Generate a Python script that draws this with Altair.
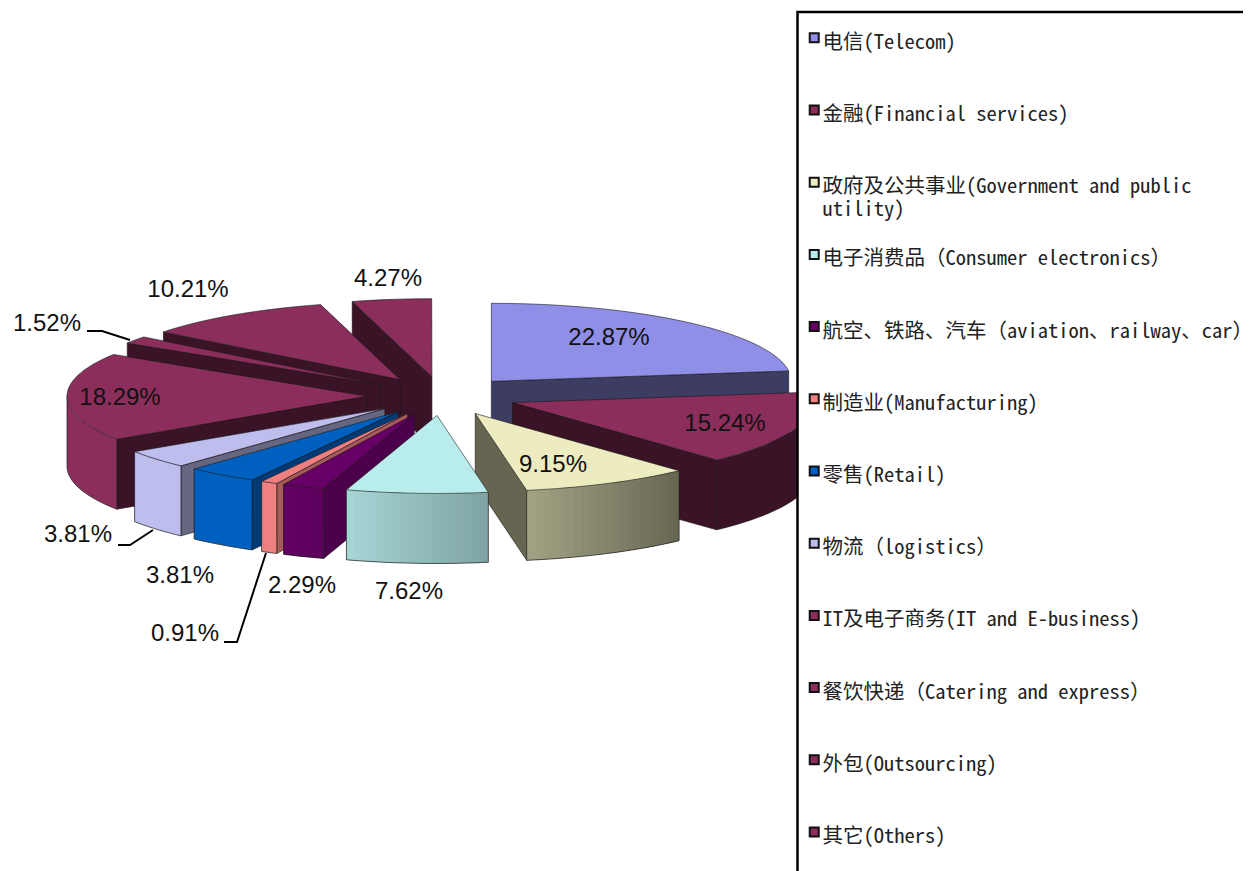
import math
import altair as alt

categories = [
    "电信(Telecom)", "金融(Financial services)", "政府及公共事业(Government and public|utility)",
    "电子消费品（Consumer electronics）", "航空、铁路、汽车（aviation、railway、car）",
    "制造业(Manufacturing)", "零售(Retail)", "物流（logistics）", "IT及电子商务(IT and E-business)",
    "餐饮快递（Catering and express）", "外包(Outsourcing)", "其它(Others)",
]
values = [22.87, 15.24, 9.15, 7.62, 2.29, 0.91, 3.81, 3.81, 18.29, 1.52, 10.21, 4.27]
top_colors = ["#8f8fe8", "#8b2e5b", "#ececc0", "#b9eded", "#660066", "#f08080",
              "#0060c0", "#bdbdee", "#8b2e5b", "#8b2e5b", "#8b2e5b", "#8b2e5b"]
wall_shades = [0.43, 0.43, 0.43, 0.43, 0.75, 0.7, 0.62, 0.54, 0.43, 0.43, 0.43, 0.43]
label_centers = [(609, 338), (725, 424), (553, 465), (409, 592), (302, 586), (185, 634),
                 (180, 576), (78, 535), (120, 398), (47, 324), (188, 290), (388, 279)]
leaders = [[(87, 331), (102, 331), (130, 340)],
           [(118, 545), (130, 545), (153, 530)],
           [(224, 642), (237, 642), (266, 553)]]

CX, CY, RX, RY, EXPLODE, DEPTH = 442, 396, 300, 78, 0.25, 70
W, H = 1235, 863
xs = alt.Scale(domain=[8, 8 + W], range=[0, W])
ys = alt.Scale(domain=[8, 8 + H], range=[0, H])
proj = dict(type="identity", scale=1, translate=[-8, -8])


def shade(color, f):
    c = color.lstrip("#")
    return "#" + "".join(f"{int(int(c[i:i + 2], 16) * f):02x}" for i in (0, 2, 4))


def arc_shade(t):
    if t <= 137:
        return 0.43
    if t >= 205:
        return 1.0
    return min(1.0, 0.43 + (t - 137) * 0.0078)


def feat(coords, fill, stroke="transparent", width=0.0, cat=None):
    return {"type": "Feature",
            "geometry": {"type": "Polygon", "coordinates": [[list(p) for p in coords + coords[:1]]]},
            "properties": {"f": fill, "s": stroke, "w": width, "cat": cat}}


def line(coords, stroke="#1a1a1a", width=0.7):
    return {"type": "Feature", "geometry": {"type": "LineString", "coordinates": [list(p) for p in coords]},
            "properties": {"f": "transparent", "s": stroke, "w": width}}


slices = []
cum = 0.0
for i, v in enumerate(values):
    a0, a1 = cum * 3.6, (cum + v) * 3.6
    cum += v
    mid = math.radians((a0 + a1) / 2)
    ax = CX + EXPLODE * RX * math.sin(mid)
    ay = CY - EXPLODE * RY * math.cos(mid)
    slices.append(dict(i=i, a0=a0, a1=a1, ax=ax, ay=ay, key=math.cos(mid)))


def rim(s, t):
    r = math.radians(t)
    return (s["ax"] + RX * math.sin(r), s["ay"] - RY * math.cos(r))


def down(p):
    return (p[0], p[1] + DEPTH)


layers = []
legend = alt.Legend(
    title=None, orient="none", legendX=794, legendY=24.5,
    symbolType="M-0.56,-2.1H1.44V-0.1H-0.56Z", symbolSize=81,
    symbolStrokeColor="#111111", symbolStrokeWidth=2, labelFont="Noto Sans Mono CJK SC",
    labelFontSize=20.5, labelColor="#222222", labelLimit=600, rowPadding=24.2, gridAlign="all",
    labelExpr="split(datum.label,'|')", labelOffset=0, labelBaseline="middle",
)

for s in sorted(slices, key=lambda q: -q["key"]):
    i = s["i"]
    col = top_colors[i]
    a0, a1 = s["a0"], s["a1"]
    apex = (s["ax"], s["ay"])
    walls = []
    n = max(2, int((a1 - a0) / 2))
    ts = [a0 + (a1 - a0) * k / n for k in range(n + 1)]
    arc_pts = [rim(s, t) for t in ts]
    wc = shade(col, wall_shades[i])
    if math.sin(math.radians(a0)) < 0:
        p = rim(s, a0)
        walls.append(feat([apex, p, down(p), down(apex)], wc, "#1a1a1a", 0.6))
    if math.sin(math.radians(a1)) > 0:
        p = rim(s, a1)
        walls.append(feat([apex, p, down(p), down(apex)], wc, "#1a1a1a", 0.6))
    lo, hi = max(a0, 90), min(a1, 270)
    if hi > lo:
        m = max(1, int((hi - lo) / 1.5))
        tt = [lo + (hi - lo) * k / m for k in range(m + 1)]
        start = 0
        for k in range(m):
            c = shade(col, arc_shade((tt[k] + tt[k + 1]) / 2))
            nxt = shade(col, arc_shade((tt[k + 1] + tt[k + 2]) / 2)) if k + 1 < m else None
            if nxt == c:
                continue
            run = [rim(s, t) for t in tt[start:min(k + 3, m + 1)]]
            walls.append(feat(run + [down(q) for q in reversed(run)], c))
            start = k + 1
        edge = [rim(s, t) for t in tt]
        walls.append(line([down(p) for p in edge]))
        walls.append(line([edge[0], down(edge[0])]))
        walls.append(line([edge[-1], down(edge[-1])]))
    if walls:
        layers.append(
            alt.Chart(alt.Data(values=walls)).mark_geoshape().encode(
                fill=alt.Fill("properties.f:N", scale=None),
                stroke=alt.Stroke("properties.s:N", scale=None),
                strokeWidth=alt.StrokeWidth("properties.w:Q", scale=None),
            ).project(**proj)
        )
    top = feat([apex] + arc_pts, col, cat=categories[i])
    layers.append(
        alt.Chart(alt.Data(values=[top])).mark_geoshape(stroke="#1a1a1a", strokeWidth=0.6).encode(
            color=alt.Color("properties.cat:N", scale=alt.Scale(domain=categories, range=top_colors),
                            legend=legend),
        ).project(**proj)
    )

label_rows = [{"t": f"{v:.2f}%", "x": p[0], "y": p[1]} for v, p in zip(values, label_centers)]
leader_rows = [{"g": g, "o": k, "x": p[0], "y": p[1]} for g, pts in enumerate(leaders) for k, p in enumerate(pts)]

leader_layer = alt.Chart(alt.Data(values=leader_rows)).mark_line(color="#000000", strokeWidth=2).encode(
    x=alt.X("x:Q", scale=xs, axis=None), y=alt.Y("y:Q", scale=ys, axis=None),
    detail="g:N", order="o:Q")
frame = alt.Chart(alt.Data(values=[{"x": 797.5, "x2": 1300, "y": 12, "y2": 900}])).mark_rect(
    fill="white", stroke="#000000", strokeWidth=2.5
).encode(x=alt.X("x:Q", scale=xs, axis=None), x2="x2:Q", y=alt.Y("y:Q", scale=ys, axis=None), y2="y2:Q")
label_layer = alt.Chart(alt.Data(values=label_rows)).mark_text(
    font="Liberation Sans", fontSize=24, color="#111111", align="center", baseline="middle"
).encode(x=alt.X("x:Q", scale=xs, axis=None), y=alt.Y("y:Q", scale=ys, axis=None), text="t:N")

chart = alt.layer(*layers, leader_layer, frame, label_layer).properties(
    width=W, height=H, padding=0, autosize=alt.AutoSizeParams(type="none"),
).configure_view(stroke=None)
chart.save("out.html", embed_options={"renderer": "svg", "actions": False})
